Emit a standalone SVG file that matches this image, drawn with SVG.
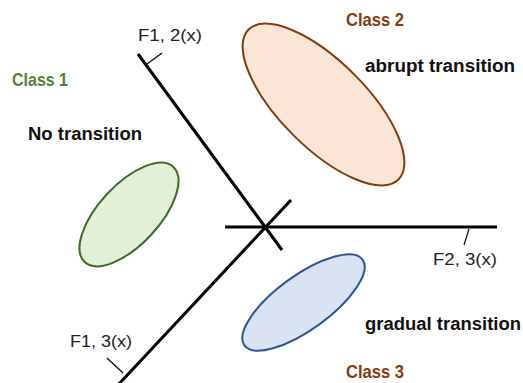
<svg xmlns="http://www.w3.org/2000/svg" width="523" height="383" viewBox="0 0 523 383">
<style>
.axis{stroke:#000;stroke-width:3;fill:none;stroke-linecap:butt}
.tick{stroke:#000;stroke-width:1.2;fill:none}
.lbl{font-family:"Liberation Sans",Arial,sans-serif;font-size:17px;fill:#222}
.bold{font-family:"Liberation Sans",Arial,sans-serif;font-size:18px;font-weight:bold;fill:#111}
</style>
<rect width="523" height="383" fill="#fff"/>
<g id="connectors">
<line class="axis" x1="138" y1="54" x2="282" y2="250"/>
<line class="axis" x1="225" y1="227" x2="497" y2="227"/>
<line class="axis" x1="291" y1="200" x2="118" y2="385"/>
<line class="tick" x1="147" y1="64" x2="162" y2="53"/>
<line class="tick" x1="469" y1="229" x2="464" y2="245"/>
<line class="tick" x1="107" y1="358" x2="123" y2="373"/>
</g>
<g id="axis-labels">
<text class="lbl" x="138" y="41" textLength="64" lengthAdjust="spacingAndGlyphs">F1, 2(x)</text>
<text class="lbl" x="433" y="265" textLength="64" lengthAdjust="spacingAndGlyphs">F2, 3(x)</text>
<text class="lbl" x="70" y="347" textLength="62" lengthAdjust="spacingAndGlyphs">F1, 3(x)</text>
</g>
<g id="class1">
<ellipse cx="129" cy="214.5" rx="65" ry="30" transform="rotate(-47 129 214.5)" fill="#e2efd9" stroke="#3f6a2a" stroke-width="2"/>
<text class="bold" x="12" y="86" textLength="56" lengthAdjust="spacingAndGlyphs" style="fill:#538135">Class 1</text>
<text class="bold" x="28" y="140" textLength="114" lengthAdjust="spacingAndGlyphs">No transition</text>
</g>
<g id="class2">
<ellipse cx="323.5" cy="104.5" rx="106" ry="43" transform="rotate(45 323.5 104.5)" fill="#fbe5d6" stroke="#843c0c" stroke-width="2"/>
<text class="bold" x="346" y="26" textLength="58" lengthAdjust="spacingAndGlyphs" style="fill:#843c0c">Class 2</text>
<text class="bold" x="365" y="72" textLength="150" lengthAdjust="spacingAndGlyphs">abrupt transition</text>
</g>
<g id="class3">
<ellipse cx="303.5" cy="302.5" rx="73" ry="27" transform="rotate(-36 303.5 302.5)" fill="#dae3f3" stroke="#2f5597" stroke-width="2"/>
<text class="bold" x="365" y="330" textLength="156" lengthAdjust="spacingAndGlyphs">gradual transition</text>
<text class="bold" x="346" y="378" textLength="58" lengthAdjust="spacingAndGlyphs" style="fill:#843c0c">Class 3</text>
</g>
</svg>
